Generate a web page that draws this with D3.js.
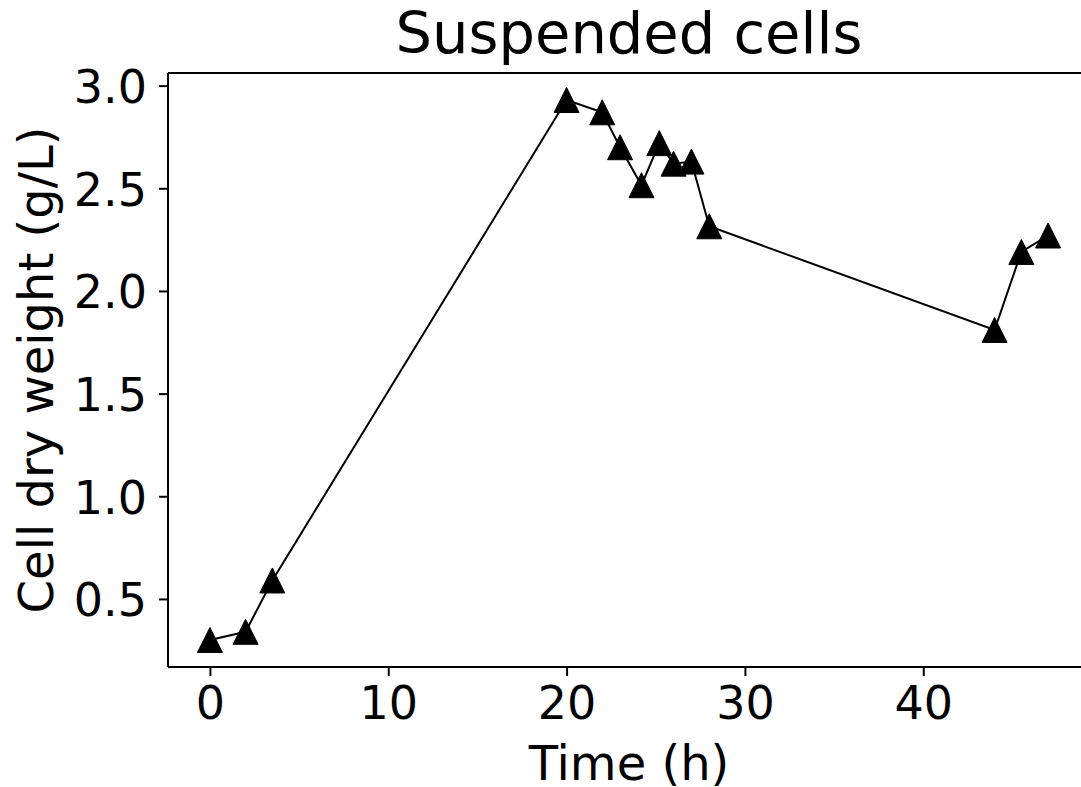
<!DOCTYPE html>
<html>
<head>
<meta charset="utf-8">
<script src="https://cdn.jsdelivr.net/npm/d3@7"></script>
<style>
  html, body { margin: 0; padding: 0; background: #fff; }
  svg { display: block; }
  text { font-family: "DejaVu Sans", sans-serif; fill: #000; }
</style>
</head>
<body>
<svg id="chart" width="1081" height="787"></svg>
<script>
// Sampling times (h) and measured cell dry weight (g/L)
const timeHours = [0, 2, 3.5, 20, 22, 23, 24.2, 25.2, 26, 27, 28, 44, 45.5, 47];
const dryWeight = [0.30, 0.34, 0.59, 2.93, 2.87, 2.70, 2.515, 2.72, 2.62, 2.63, 2.315, 1.81, 2.19, 2.27];

const xTicks = [0, 10, 20, 30, 40];
const yTicks = [0.5, 1.0, 1.5, 2.0, 2.5, 3.0];

const titleText = "Suspended cells";
const xLabelText = "Time (h)";
const yLabelText = "Cell dry weight (g/L)";

const svg = d3.select("#chart");

// Plot frame
const frame = { left: 168, right: 1090, top: 73, bottom: 667 };

// Domains padded by 5% of the data range on each side
function padded(values) {
  const [lo, hi] = d3.extent(values);
  const m = (hi - lo) * 0.05;
  return [lo - m, hi + m];
}

const x = d3.scaleLinear().domain(padded(timeHours)).range([frame.left, frame.right]);
const y = d3.scaleLinear().domain(padded(dryWeight)).range([frame.bottom, frame.top]);

const tickFont = 46;
const labelFont = 48;
const titleFont = 57.5;

// X axis
const xAxis = svg.append("g")
  .attr("transform", `translate(0,${frame.bottom})`)
  .call(d3.axisBottom(x).tickValues(xTicks).tickFormat(d3.format("d"))
    .tickSize(9).tickSizeOuter(0).tickPadding(10));
xAxis.select(".domain").remove();
xAxis.selectAll(".tick line").attr("stroke", "#000").attr("stroke-width", 2);
xAxis.selectAll(".tick text")
  .style("font-family", "DejaVu Sans, sans-serif")
  .style("font-size", tickFont + "px");

// Y axis
const yAxis = svg.append("g")
  .attr("transform", `translate(${frame.left},0)`)
  .call(d3.axisLeft(y).tickValues(yTicks).tickFormat(d3.format(".1f"))
    .tickSize(9).tickSizeOuter(0).tickPadding(12));
yAxis.select(".domain").remove();
yAxis.selectAll(".tick line").attr("stroke", "#000").attr("stroke-width", 2);
yAxis.selectAll(".tick text")
  .attr("dy", "0.365em")
  .style("font-family", "DejaVu Sans, sans-serif")
  .style("font-size", tickFont + "px");

// Spines
const spines = svg.append("g").attr("stroke", "#000").attr("stroke-width", 2).attr("fill", "none");
spines.append("line").attr("x1", frame.left).attr("x2", frame.left).attr("y1", frame.top).attr("y2", frame.bottom);
spines.append("line").attr("x1", frame.left).attr("x2", frame.right).attr("y1", frame.bottom).attr("y2", frame.bottom);
spines.append("line").attr("x1", frame.left).attr("x2", frame.right).attr("y1", frame.top).attr("y2", frame.top);
spines.append("line").attr("x1", frame.right).attr("x2", frame.right).attr("y1", frame.top).attr("y2", frame.bottom);

// Data line
const points = timeHours.map((t, i) => [t, dryWeight[i]]);
svg.append("path")
  .datum(points)
  .attr("fill", "none")
  .attr("stroke", "#000")
  .attr("stroke-width", 2)
  .attr("d", d3.line().x(d => x(d[0])).y(d => y(d[1])));

// Triangle markers, centred on each point
const s = 12.5;
svg.append("g")
  .selectAll("path")
  .data(points)
  .join("path")
  .attr("transform", d => `translate(${x(d[0])},${y(d[1])})`)
  .attr("d", `M0,${-s}L${-s},${s}L${s},${s}Z`)
  .attr("fill", "#000")
  .attr("stroke", "#000")
  .attr("stroke-width", 1);

// Title and axis labels
svg.append("text")
  .attr("x", (frame.left + frame.right) / 2)
  .attr("y", 53)
  .attr("text-anchor", "middle")
  .style("font-size", titleFont + "px")
  .text(titleText);

svg.append("text")
  .attr("x", (frame.left + frame.right) / 2)
  .attr("y", 780)
  .attr("text-anchor", "middle")
  .style("font-size", labelFont + "px")
  .text(xLabelText);

svg.append("text")
  .attr("transform", `translate(53,${(frame.top + frame.bottom) / 2}) rotate(-90)`)
  .attr("text-anchor", "middle")
  .style("font-size", labelFont + "px")
  .text(yLabelText);
</script>
</body>
</html>
